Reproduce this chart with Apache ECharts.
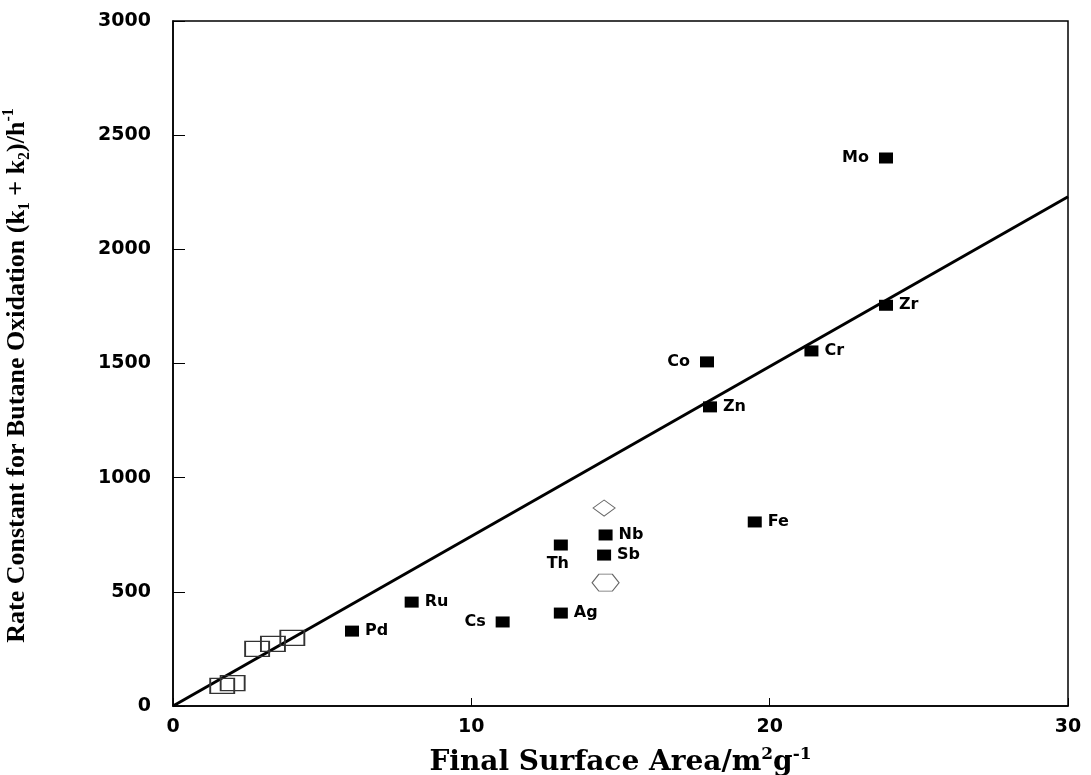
<!DOCTYPE html>
<html>
<head>
<meta charset="utf-8">
<script src="https://cdn.jsdelivr.net/npm/echarts@6/dist/echarts.min.js"></script>
<style>
html,body{margin:0;padding:0;background:#fff;}
#chart{width:1091px;height:775px;}
</style>
</head>
<body>
<div id="chart"></div>
<script>
// ---- data ----
const elements = ['Mo','Zr','Cr','Co','Zn','Fe','Nb','Sb','Th','Ru','Ag','Cs','Pd'];
const areaX    = [23.9, 23.9, 21.4, 17.9, 18.0, 19.5, 14.5, 14.45, 13.0, 8.0, 13.0, 11.05, 6.0];
const rateY    = [2400, 1755, 1555, 1507, 1310, 806, 749, 661, 705, 455, 407, 368, 328];

const openSquareX = [1.65, 2.0, 2.82, 3.35, 4.0];
const openSquareY = [88, 100, 250, 272, 298];

const diamondPoint = [14.45, 867];
const hexagonPoint = [14.5, 540];

const fitX = [0, 30];
const fitY = [0, 2230];

const xTicks = [0, 10, 20, 30];
const yTicks = [0, 500, 1000, 1500, 2000, 2500, 3000];

// ---- label placement (style) ----
const leftLabels = {Mo: true, Co: true, Cs: true};
const bottomLabels = {Th: true};

const chart = echarts.init(document.getElementById('chart'));

const filledData = elements.map((n, i) => {
  let label;
  if (leftLabels[n]) label = {position: 'left', distance: 10};
  else if (bottomLabels[n]) label = {position: 'bottom', distance: 5, offset: [-3, 0]};
  else label = {position: 'right', distance: 6};
  return {name: n, value: [areaX[i], rateY[i]], label: label};
});

const labelFont = {fontFamily: 'DejaVu Sans', fontWeight: 'bold', fontSize: 16, color: '#000'};
const tickFont = {fontFamily: 'DejaVu Sans', fontWeight: 'bold', fontSize: 19, color: '#000'};
const mkRich = (fam, size) => ({
  b:   {fontFamily: fam, fontWeight: 'bold', fontSize: size, color: '#000', lineHeight: size + 6},
  sup: {fontFamily: fam, fontWeight: 'bold', fontSize: Math.round(size * 0.62), color: '#000', verticalAlign: 'top', lineHeight: size + 6},
  sub: {fontFamily: fam, fontWeight: 'bold', fontSize: Math.round(size * 0.62), color: '#000', verticalAlign: 'bottom', lineHeight: size + 6}
});

chart.setOption({
  animation: false,
  backgroundColor: '#fff',
  grid: {left: 173, right: 23, top: 21, bottom: 69, containLabel: false, outerBoundsMode: 'none',
         show: true, borderColor: '#000', borderWidth: 1.5, backgroundColor: 'transparent'},
  xAxis: {
    type: 'value', min: xTicks[0], max: xTicks[xTicks.length - 1], interval: 10,
    axisLine: {show: true, lineStyle: {color: '#000', width: 1.5}},
    axisTick: {show: true, inside: true, length: 8, lineStyle: {color: '#000'}},
    splitLine: {show: false},
    axisLabel: Object.assign({margin: 12, formatter: v => String(v)}, tickFont),
    name: '{b|Final Surface Area/m}{sup|2}{b|g}{sup|-1}',
    nameLocation: 'middle', nameGap: 40,
    nameTextStyle: {rich: mkRich('DejaVu Serif', 28)}
  },
  yAxis: {
    type: 'value', min: yTicks[0], max: yTicks[yTicks.length - 1], interval: 500,
    axisLine: {show: true, lineStyle: {color: '#000', width: 1.5}},
    axisTick: {show: true, inside: true, length: 12, lineStyle: {color: '#000'}},
    splitLine: {show: false},
    axisLabel: Object.assign({margin: 22, formatter: v => String(v)}, tickFont),
    name: '{b|Rate Constant for Butane Oxidation (k}{sub|1}{b| + k}{sub|2}{b|)/h}{sup|-1}',
    nameLocation: 'middle', nameGap: 140, nameRotate: 90,
    nameTextStyle: {rich: mkRich('Liberation Serif', 26), padding: [0, 24, 0, 0]}
  },
  series: [
    {
      type: 'line', data: fitX.map((x, i) => [x, fitY[i]]),
      showSymbol: false, symbol: 'none', silent: true,
      lineStyle: {color: '#000', width: 3}, z: 2
    },
    {
      type: 'scatter', data: filledData,
      symbol: 'rect', symbolSize: [14, 11],
      itemStyle: {color: '#000', opacity: 1},
      label: Object.assign({show: true, formatter: '{b}'}, labelFont),
      z: 3
    },
    {
      type: 'scatter', data: openSquareX.map((x, i) => [x, openSquareY[i]]),
      symbol: 'rect', symbolSize: [24, 15],
      itemStyle: {color: 'rgba(0,0,0,0)', borderColor: '#333', borderWidth: 1.5, opacity: 1},
      z: 3
    },
    {
      type: 'scatter', data: [diamondPoint],
      symbol: 'diamond', symbolSize: [22, 16],
      itemStyle: {color: 'rgba(0,0,0,0)', borderColor: '#666', borderWidth: 1, opacity: 1},
      z: 3
    },
    {
      type: 'scatter', data: [hexagonPoint],
      symbol: 'path://M25,0 L75,0 L100,50 L75,100 L25,100 L0,50 Z', symbolSize: [27, 17],
      symbolKeepAspect: false,
      itemStyle: {color: 'rgba(0,0,0,0)', borderColor: '#666', borderWidth: 1, opacity: 1},
      z: 3
    }
  ]
});
</script>
</body>
</html>
